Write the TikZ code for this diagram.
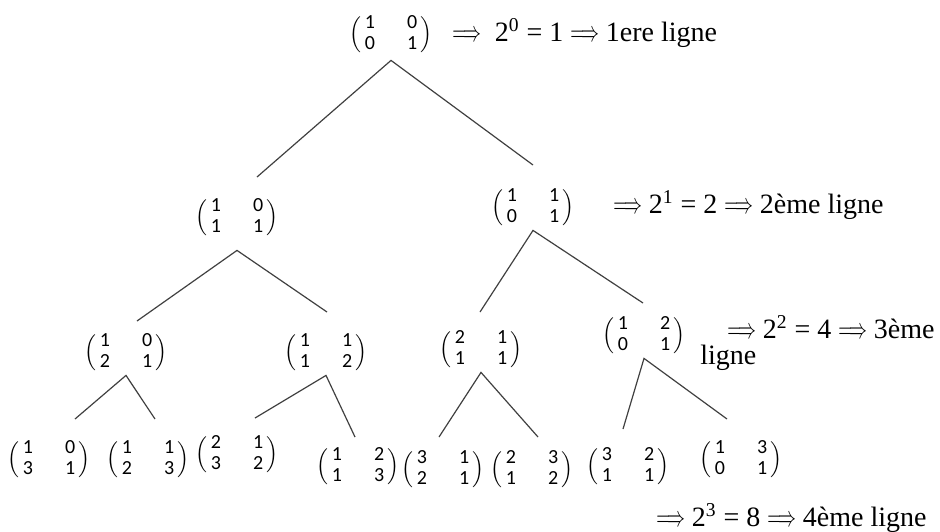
\documentclass[tikz,border=0pt]{standalone}
\usepackage{fontspec}
\setmainfont{Liberation Serif}
\newfontfamily\mfont{Carlito}
\usepackage{tikz}

\newcommand{\mtx}[4]{$\Big(\begin{tabular}{@{\,}c@{\hspace{16pt}}c@{\,}}#1&#2\\#3&#4\end{tabular}\Big)$}
\newcommand{\imp}{\scalebox{0.62}[1]{$\Longrightarrow$}}

\tikzset{
  mnode/.style={inner sep=0.5pt, font=\mfont\fontsize{10}{10.5}\selectfont},
  lvl/.style={anchor=west, inner sep=0pt, font=\fontsize{14}{16}\selectfont},
  branch/.style={line width=0.6pt, black!75}
}

\begin{document}
\begin{tikzpicture}[x=0.5pt, y=-0.5pt]
  \useasboundingbox (0,0) rectangle (940,531);
  % matrices, one row of the tree at a time
  \node[mnode] (m0) at (391,35) {\mtx1001};
  \node[mnode] (m10) at (237,218) {\mtx1011};
  \node[mnode] (m11) at (533,208) {\mtx1101};
  \node[mnode] (m20) at (126,353) {\mtx1021};
  \node[mnode] (m21) at (326,353) {\mtx1112};
  \node[mnode] (m22) at (481,350) {\mtx2111};
  \node[mnode] (m23) at (644,336) {\mtx1201};
  \node[mnode] (m30) at (49,460) {\mtx1031};
  \node[mnode] (m31) at (148,460) {\mtx1123};
  \node[mnode] (m32) at (237,455) {\mtx2132};
  \node[mnode] (m33) at (358,467) {\mtx1213};
  \node[mnode] (m34) at (443,470) {\mtx3121};
  \node[mnode] (m35) at (532,470) {\mtx2312};
  \node[mnode] (m36) at (628,467) {\mtx3211};
  \node[mnode] (m37) at (741,460) {\mtx1301};

  % where the branches stop
  \coordinate (e10) at (257,177);
  \coordinate (e11) at (533,165);
  \coordinate (e20) at (137,321);
  \coordinate (e21) at (327,312);
  \coordinate (e22) at (480,312);
  \coordinate (e23) at (643,303);
  \coordinate (e30) at (75,419);
  \coordinate (e31) at (155,419);
  \coordinate (e32) at (255,418);
  \coordinate (e33) at (355,437);
  \coordinate (e34) at (439,437);
  \coordinate (e35) at (538,437);
  \coordinate (e36) at (623,429);
  \coordinate (e37) at (727,419);

  \draw[branch] (e10) -- ([yshift=-1.5pt]m0.south) -- (e11);
  \draw[branch] (e20) -- ([yshift=-5pt]m10.south) -- (e21);
  \foreach \p/\a/\b in {m11/e22/e23, m20/e30/e31, m21/e32/e33, m22/e34/e35, m23/e36/e37} {
    \draw[branch] (\a) -- (\p.south) -- (\b);
  }

  % powers of two
  \node[lvl] (t0) at (452,33) {\imp\ \ 2\textsuperscript{0} = 1 \imp{} 1ere ligne};
  \node[lvl] (t1) at (613,205) {\imp{} 2\textsuperscript{1} = 2 \imp{} 2ème ligne};
  \node[lvl] (t2) at (727,327) {\imp{} 2\textsuperscript{2} = 4 \imp{} 3ème};
  \node[lvl] (t2b) at (700,358) {ligne};
  \node[lvl] (t3) at (656,518) {\imp{} 2\textsuperscript{3} = 8 \imp{} 4ème ligne};
\end{tikzpicture}
\end{document}
